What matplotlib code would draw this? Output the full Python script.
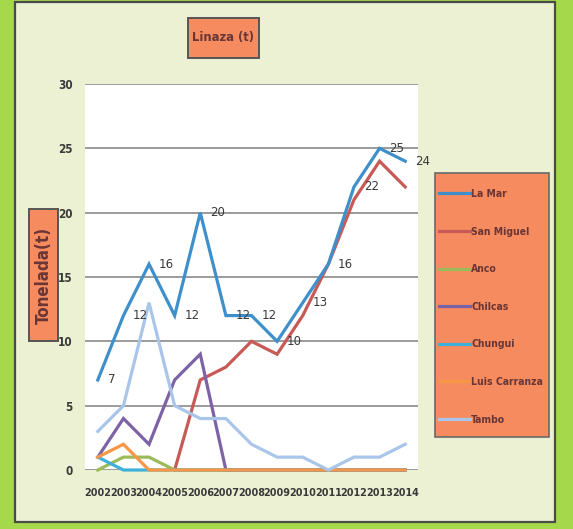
import numpy as np
import matplotlib
matplotlib.use("Agg")
import matplotlib.pyplot as plt
from matplotlib.patches import Rectangle
from matplotlib.lines import Line2D
from matplotlib import font_manager

years = ["2002", "2003", "2004", "2005", "2006", "2007", "2008",
         "2009", "2010", "2011", "2012", "2013", "2014"]
la_mar = [7, 12, 16, 12, 20, 12, 12, 10, 13, 16, 22, 25, 24]
san_miguel = [np.nan, np.nan, np.nan, 0, 7, 8, 10, 9, 12, 16, 21, 24, 22]
anco = [0, 1, 1, 0, 0, 0, 0, 0, 0, 0, 0, 0, 0]
chilcas = [1, 4, 2, 7, 9, 0, 0, 0, 0, 0, 0, 0, 0]
chungui = [1, 0, 0, 0, 0, 0, 0, 0, 0, 0, 0, 0, 0]
luis_carranza = [1, 2, 0, 0, 0, 0, 0, 0, 0, 0, 0, 0, 0]
tambo = [3, 5, 13, 5, 4, 4, 2, 1, 1, 0, 1, 1, 2]
series_names = ["La Mar", "San Miguel", "Anco", "Chilcas", "Chungui",
                "Luis Carranza", "Tambo"]
series_colors = ["#3F8FCB", "#C85A56", "#9BBB59", "#7E62A6", "#3FB0D8",
                 "#F79646", "#A9C6EA"]
yticks = [0, 5, 10, 15, 20, 25, 30]

ttf = font_manager.fontManager.ttflist
names = {f.name for f in ttf}
if "Liberation Sans Narrow" in names:
    FAM, STRETCH, SC = ["Liberation Sans Narrow", "DejaVu Sans"], "normal", 1.0
elif any(f.name == "DejaVu Sans" and "Condensed" in f.fname for f in ttf):
    FAM, STRETCH, SC = ["DejaVu Sans"], "condensed", 0.9
else:
    FAM, STRETCH, SC = ["Lato", "DejaVu Sans"], "normal", 0.85
plt.rcParams["font.family"] = FAM
plt.rcParams["font.stretch"] = STRETCH

W, H = 573, 529
fig = plt.figure(figsize=(W / 100, H / 100), dpi=100)
fig.patch.set_facecolor("#A6D84C")

def fx(px):
    return px / W

def fy(py):
    return 1 - py / H

# outer frame
frame = Rectangle((fx(15), fy(522)), fx(555) - fx(15), fy(2) - fy(522),
                  transform=fig.transFigure, facecolor="#ECF1D3",
                  edgecolor="#4A4A4A", linewidth=1.6, zorder=-5)
fig.patches.append(frame)

ax = fig.add_axes([fx(85), fy(470), fx(418) - fx(85), fy(84) - fy(470)])
ax.set_zorder(2)
ax.set_facecolor("white")

x = np.arange(len(years))
data = [la_mar, san_miguel, anco, chilcas, chungui, luis_carranza, tambo]
for i, (vals, name, col) in enumerate(zip(data, series_names, series_colors)):
    ax.plot(x, vals, color=col, lw=2.3, solid_joinstyle="miter", label=name,
            zorder=5 if i == 0 else 3, clip_on=False)

for xi, v in zip(x, la_mar):
    ax.annotate(str(v), (xi, v), xytext=(7, 0), textcoords="offset points",
                ha="left", va="center", fontsize=10.5 * SC, color="#3A3A3A",
                fontstretch=STRETCH, zorder=6)

ax.set_xlim(-0.5, len(years) - 0.5)
ax.set_ylim(0, 30)
ax.set_yticks(yticks)
ax.set_yticklabels([str(t) for t in yticks])
ax.set_xticks(x)
ax.set_xticklabels(years)
ax.yaxis.grid(True, color="#8A8A8A", lw=1.2)
ax.set_axisbelow(True)
for s in ax.spines.values():
    s.set_visible(False)
ax.tick_params(length=0)
ax.tick_params(axis="y", pad=9, labelsize=9.3 * SC, labelcolor="#3A3A3A")
ax.tick_params(axis="x", pad=13, labelsize=8.6 * SC, labelcolor="#3A3A3A")
for lab in ax.get_xticklabels() + ax.get_yticklabels():
    lab.set_fontweight("bold")
    lab.set_fontstretch(STRETCH)

# title box
fig.patches.append(Rectangle((fx(188), fy(58)), fx(259) - fx(188), fy(18) - fy(58),
                             transform=fig.transFigure, facecolor="#F58B5E",
                             edgecolor="#555555", linewidth=1.4, zorder=3))
fig.text(fx(223.5), fy(38), "Linaza (t)", ha="center", va="center",
         fontsize=10.3 * SC, fontweight="bold", color="#6A3535",
         fontstretch=STRETCH, zorder=4)

# y label box
fig.patches.append(Rectangle((fx(29), fy(341)), fx(58) - fx(29), fy(209) - fy(341),
                             transform=fig.transFigure, facecolor="#F58B5E",
                             edgecolor="#555555", linewidth=1.4, zorder=3))
fig.text(fx(43.5), fy(275), "Tonelada(t)", ha="center", va="center", rotation=90,
         fontsize=13.5 * SC, fontweight="bold", color="#6A3535",
         fontstretch=STRETCH, zorder=4)

# legend box
fig.patches.append(Rectangle((fx(435), fy(437)), fx(549) - fx(435), fy(173) - fy(437),
                             transform=fig.transFigure, facecolor="#F58B5E",
                             edgecolor="#6A6A6A", linewidth=1.2, zorder=3))
leg_handles = [Line2D([0], [0], color=c, lw=2.3) for c in series_colors]
leg_fs = 8.3 * SC
leg = fig.legend(leg_handles, series_names, loc="upper left",
                 bbox_to_anchor=(fx(437), fy(187)), frameon=False,
                 prop={"size": leg_fs, "weight": "bold", "stretch": STRETCH},
                 labelspacing=2.66, handlelength=3.0,
                 handletextpad=0.1, borderpad=0.2, borderaxespad=0)
for t in leg.get_texts():
    t.set_color("#6A3535")
leg.set_zorder(5)

fig.savefig("out.png", dpi=100, facecolor=fig.get_facecolor())
